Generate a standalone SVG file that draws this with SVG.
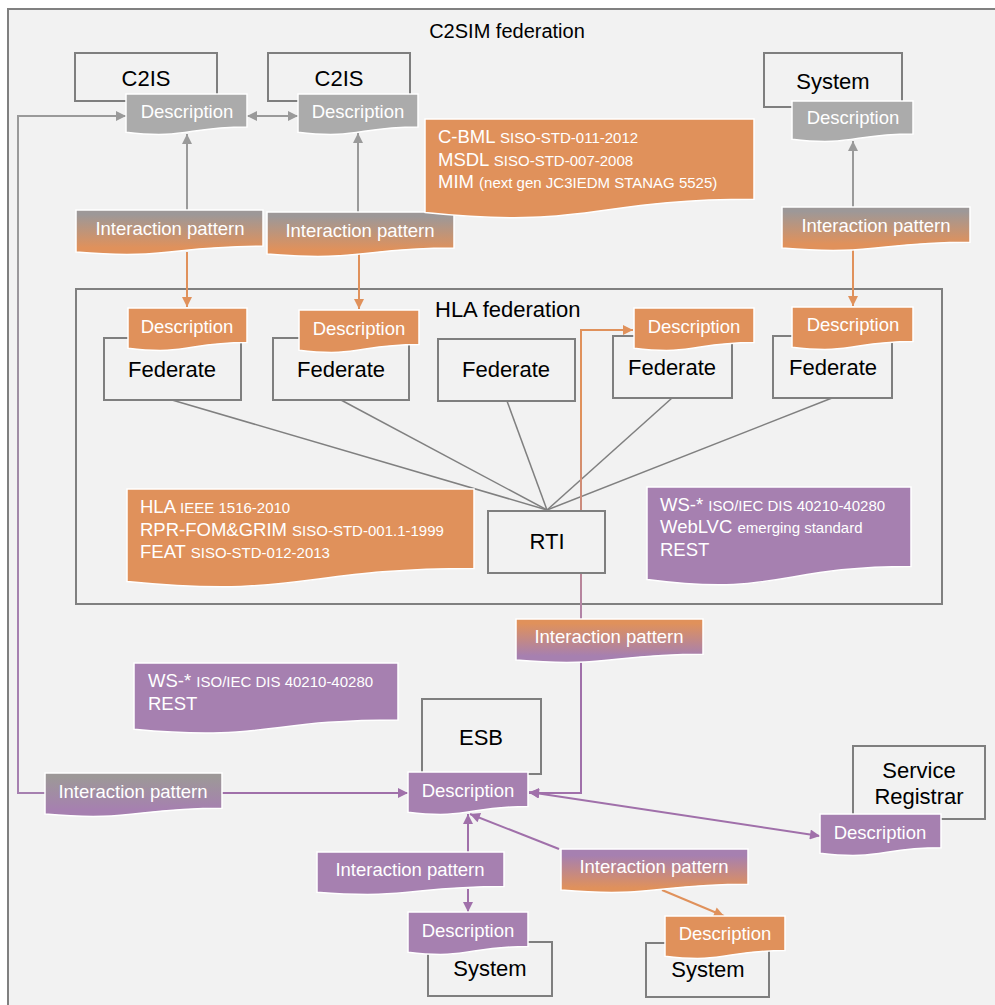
<svg xmlns="http://www.w3.org/2000/svg" width="995" height="1005" viewBox="0 0 995 1005">
<defs>
<style>
text{font-family:"Liberation Sans",Arial,sans-serif}
.box{fill:#f2f2f2;stroke:#7f7f7f;stroke-width:2}
.lbl{font-size:22px;fill:#000;text-anchor:middle}
.doc{stroke:#ffffff;stroke-width:1.5}
.dt{font-size:18.5px;fill:#fff;text-anchor:middle}
.big{font-size:18.5px;fill:#fff}
.sm{font-size:15px}
.or{fill:#e0915b}
.pu{fill:#a680b0}
.gr{fill:#ababab}
.cg{stroke:#9a9a9a;stroke-width:2;fill:none}
.co{stroke:#e0915b;stroke-width:2;fill:none}
.cp{stroke:#a070aa;stroke-width:2;fill:none}
.cf{stroke:#808080;stroke-width:1.5;fill:none}
</style>
<marker id="aG" viewBox="0 0 10 10" refX="10" refY="5" markerWidth="11" markerHeight="10" markerUnits="userSpaceOnUse" orient="auto-start-reverse"><path d="M0,0 L10,5 L0,10 z" fill="#9a9a9a"/></marker>
<marker id="aO" viewBox="0 0 10 10" refX="10" refY="5" markerWidth="11" markerHeight="10" markerUnits="userSpaceOnUse" orient="auto-start-reverse"><path d="M0,0 L10,5 L0,10 z" fill="#e0915b"/></marker>
<marker id="aP" viewBox="0 0 10 10" refX="10" refY="5" markerWidth="11" markerHeight="10" markerUnits="userSpaceOnUse" orient="auto-start-reverse"><path d="M0,0 L10,5 L0,10 z" fill="#a070aa"/></marker>
<linearGradient id="gGO" x1="0" y1="0" x2="0" y2="1"><stop offset="0.1" stop-color="#9d9898"/><stop offset="0.85" stop-color="#e0915b"/></linearGradient>
<linearGradient id="gOP" x1="0" y1="0" x2="0" y2="1"><stop offset="0.1" stop-color="#e0915b"/><stop offset="0.85" stop-color="#a680b0"/></linearGradient>
<linearGradient id="gGP" x1="0" y1="0" x2="0" y2="1"><stop offset="0.1" stop-color="#9d9898"/><stop offset="0.85" stop-color="#a680b0"/></linearGradient>
<linearGradient id="gPO" x1="0" y1="0" x2="0" y2="1"><stop offset="0.15" stop-color="#a680b0"/><stop offset="0.9" stop-color="#e0915b"/></linearGradient>
<linearGradient id="lL" gradientUnits="userSpaceOnUse" x1="0" y1="116" x2="0" y2="793"><stop offset="0.2" stop-color="#9a9a9a"/><stop offset="0.75" stop-color="#a680b0"/></linearGradient>
<linearGradient id="lR" gradientUnits="userSpaceOnUse" x1="0" y1="330" x2="0" y2="619"><stop offset="0.3" stop-color="#e0915b"/><stop offset="1" stop-color="#b083a8"/></linearGradient>
</defs>
<rect x="0" y="0" width="995" height="1005" fill="#ffffff"/>
<g id="c2sim-federation">
<rect x="8" y="9" width="1000" height="1010" fill="#f2f2f2" stroke="#808080" stroke-width="2"/>
<text x="507" y="38" style="font-size:20px;text-anchor:middle">C2SIM federation</text>
</g>
<g id="hla-federation">
<rect x="76" y="289" width="866" height="315" fill="none" stroke="#808080" stroke-width="2"/>
<text x="435" y="317" style="font-size:22px">HLA federation</text>
</g>
<g id="connectors">
<path d="M45,793 H18 V116 H126" fill="none" stroke="url(#lL)" stroke-width="2" marker-end="url(#aG)"/>
<path class="cp" d="M222,793 H408" marker-end="url(#aP)"/>
<path class="cg" d="M247,116 H298" marker-start="url(#aG)" marker-end="url(#aG)"/>
<path class="cg" d="M187,210 V134" marker-end="url(#aG)"/>
<path class="co" d="M187,252 V307" marker-end="url(#aO)"/>
<path class="cg" d="M358,212 V133" marker-end="url(#aG)"/>
<path class="co" d="M359,254 V309" marker-end="url(#aO)"/>
<path class="cg" d="M853,207 V141" marker-end="url(#aG)"/>
<path class="co" d="M853,249 V306" marker-end="url(#aO)"/>
<path class="cf" d="M172,400 L547,510"/>
<path class="cf" d="M341,400 L547,510"/>
<path class="cf" d="M507,401 L547,510"/>
<path class="cf" d="M672,398 L547,510"/>
<path class="cf" d="M832,398 L547,510"/>
<path d="M581,619 V330 H633" fill="none" stroke="url(#lR)" stroke-width="2" marker-end="url(#aO)"/>
<path class="cp" d="M581,661 V793 H529" marker-end="url(#aP)"/>
<path class="cp" d="M529,792 L820,836" marker-start="url(#aP)" marker-end="url(#aP)"/>
<path class="cp" d="M468,852 V814" marker-end="url(#aP)"/>
<path class="cp" d="M468,889 V912" marker-end="url(#aP)"/>
<path class="cp" d="M559,849 L470,814" marker-end="url(#aP)"/>
<path class="co" d="M662,890 L724,916" marker-end="url(#aO)"/>
</g>
<g id="c2is-1"><rect class="box" x="75" y="53" width="142" height="48"/><text class="lbl" x="146" y="86">C2IS</text></g>
<g id="c2is-2"><rect class="box" x="268" y="53" width="142" height="48"/><text class="lbl" x="339" y="86">C2IS</text></g>
<g id="system-top"><rect class="box" x="764" y="53" width="138" height="54"/><text class="lbl" x="833" y="89">System</text></g>
<g id="federate-1"><rect class="box" x="104" y="338" width="137" height="62"/><text class="lbl" x="172" y="377">Federate</text></g>
<g id="federate-2"><rect class="box" x="273" y="338" width="136" height="62"/><text class="lbl" x="341" y="377">Federate</text></g>
<g id="federate-3"><rect class="box" x="438" y="339" width="137" height="62"/><text class="lbl" x="506" y="377">Federate</text></g>
<g id="federate-4"><rect class="box" x="613" y="336" width="119" height="62"/><text class="lbl" x="672" y="375">Federate</text></g>
<g id="federate-5"><rect class="box" x="773" y="336" width="119" height="62"/><text class="lbl" x="833" y="375">Federate</text></g>
<g id="rti"><rect class="box" x="488" y="511" width="117" height="62"/><text class="lbl" x="547" y="549">RTI</text></g>
<g id="esb"><rect class="box" x="422" y="699" width="119" height="75"/><text class="lbl" x="481" y="745">ESB</text></g>
<g id="service-registrar"><rect class="box" x="853" y="746" width="132" height="73"/><text class="lbl" x="919" y="778">Service</text><text class="lbl" x="919" y="804">Registrar</text></g>
<g id="system-bl"><rect class="box" x="428" y="942" width="124" height="54"/><text class="lbl" x="490" y="976">System</text></g>
<g id="system-br"><rect class="box" x="646" y="943" width="123" height="54"/><text class="lbl" x="708" y="977">System</text></g>
<g id="desc-c2is-1"><path class="doc gr" d="M126,94 H247 V126.9 C186.5,126.9 186.5,139.4 126,132.3 Z"/><text class="dt" x="187" y="118">Description</text></g>
<g id="desc-c2is-2"><path class="doc gr" d="M298,94 H418 V126.9 C358,126.9 358,139.4 298,132.3 Z"/><text class="dt" x="358" y="118">Description</text></g>
<g id="desc-system-top"><path class="doc gr" d="M792,101 H913 V133.9 C852.5,133.9 852.5,146.4 792,139.3 Z"/><text class="dt" x="853" y="124">Description</text></g>
<g id="desc-fed-1"><path class="doc or" d="M128,308 H247 V342.5 C187.5,342.5 187.5,355.6 128,348.2 Z"/><text class="dt" x="187" y="333">Description</text></g>
<g id="desc-fed-2"><path class="doc or" d="M299,310 H419 V344.5 C359,344.5 359,357.6 299,350.2 Z"/><text class="dt" x="359" y="335">Description</text></g>
<g id="desc-fed-4"><path class="doc or" d="M634,308 H754 V342.5 C694,342.5 694,355.6 634,348.2 Z"/><text class="dt" x="694" y="333">Description</text></g>
<g id="desc-fed-5"><path class="doc or" d="M792,307 H913 V341.5 C852.5,341.5 852.5,354.6 792,347.2 Z"/><text class="dt" x="853" y="331">Description</text></g>
<g id="desc-esb"><path class="doc pu" d="M408,772 H528 V806.5 C468,806.5 468,819.6 408,812.2 Z"/><text class="dt" x="468" y="797">Description</text></g>
<g id="desc-registrar"><path class="doc pu" d="M820,814 H941 V847.7 C880.5,847.7 880.5,860.5 820,853.2 Z"/><text class="dt" x="880" y="839">Description</text></g>
<g id="desc-system-bl"><path class="doc pu" d="M408,912 H528 V946.5 C468,946.5 468,959.6 408,952.2 Z"/><text class="dt" x="468" y="937">Description</text></g>
<g id="desc-system-br"><path class="doc or" d="M665,916 H785 V950.5 C725,950.5 725,963.6 665,956.2 Z"/><text class="dt" x="725" y="940">Description</text></g>
<g id="ip-1"><path class="doc" fill="url(#gGO)" d="M76,210 H263 V246.1 C169.5,246.1 169.5,259.8 76,252 Z"/><text class="dt" x="170" y="235">Interaction pattern</text></g>
<g id="ip-2"><path class="doc" fill="url(#gGO)" d="M267,212 H454 V248.1 C360.5,248.1 360.5,261.8 267,254 Z"/><text class="dt" x="360" y="237">Interaction pattern</text></g>
<g id="ip-3"><path class="doc" fill="url(#gGO)" d="M782,207 H970 V242.3 C876,242.3 876,255.7 782,248.1 Z"/><text class="dt" x="876" y="232">Interaction pattern</text></g>
<g id="ip-rti"><path class="doc" fill="url(#gOP)" d="M516,619 H703 V654.3 C609.5,654.3 609.5,667.7 516,660.1 Z"/><text class="dt" x="609" y="643">Interaction pattern</text></g>
<g id="ip-left"><path class="doc" fill="url(#gGP)" d="M45,773 H222 V808.3 C133.5,808.3 133.5,821.7 45,814.1 Z"/><text class="dt" x="133" y="798">Interaction pattern</text></g>
<g id="ip-bl"><path class="doc pu" d="M317,852 H504 V886.5 C410.5,886.5 410.5,899.6 317,892.2 Z"/><text class="dt" x="410" y="876">Interaction pattern</text></g>
<g id="ip-bm"><path class="doc" fill="url(#gPO)" d="M561,849 H748 V884.3 C654.5,884.3 654.5,897.7 561,890.1 Z"/><text class="dt" x="654" y="873">Interaction pattern</text></g>
<g id="std-c2"><path class="doc or" d="M425,119 H754 V199.2 C589.5,199.2 589.5,229.7 425,212.4 Z"/>
<text class="big" x="438" y="143">C-BML <tspan class="sm">SISO-STD-011-2012</tspan></text>
<text class="big" x="438" y="166">MSDL <tspan class="sm">SISO-STD-007-2008</tspan></text>
<text class="big" x="438" y="188">MIM <tspan class="sm">(next gen JC3IEDM STANAG 5525)</tspan></text></g>
<g id="std-hla"><path class="doc or" d="M127,489 H474 V568.4 C300.5,568.4 300.5,598.6 127,581.5 Z"/>
<text class="big" x="140" y="513">HLA <tspan class="sm">IEEE 1516-2010</tspan></text>
<text class="big" x="140" y="536">RPR-FOM&amp;GRIM <tspan class="sm">SISO-STD-001.1-1999</tspan></text>
<text class="big" x="140" y="558">FEAT <tspan class="sm">SISO-STD-012-2013</tspan></text></g>
<g id="std-ws-right"><path class="doc pu" d="M647,487 H911 V566.4 C779,566.4 779,596.6 647,579.5 Z"/>
<text class="big" x="660" y="511">WS-* <tspan class="sm">ISO/IEC DIS 40210-40280</tspan></text>
<text class="big" x="660" y="533">WebLVC <tspan class="sm">emerging standard</tspan></text>
<text class="big" x="660" y="556">REST</text></g>
<g id="std-ws-left"><path class="doc pu" d="M134,663 H398 V719.9 C266,719.9 266,741.6 134,729.3 Z"/>
<text class="big" x="148" y="687">WS-* <tspan class="sm">ISO/IEC DIS 40210-40280</tspan></text>
<text class="big" x="148" y="710">REST</text></g>
</svg>
